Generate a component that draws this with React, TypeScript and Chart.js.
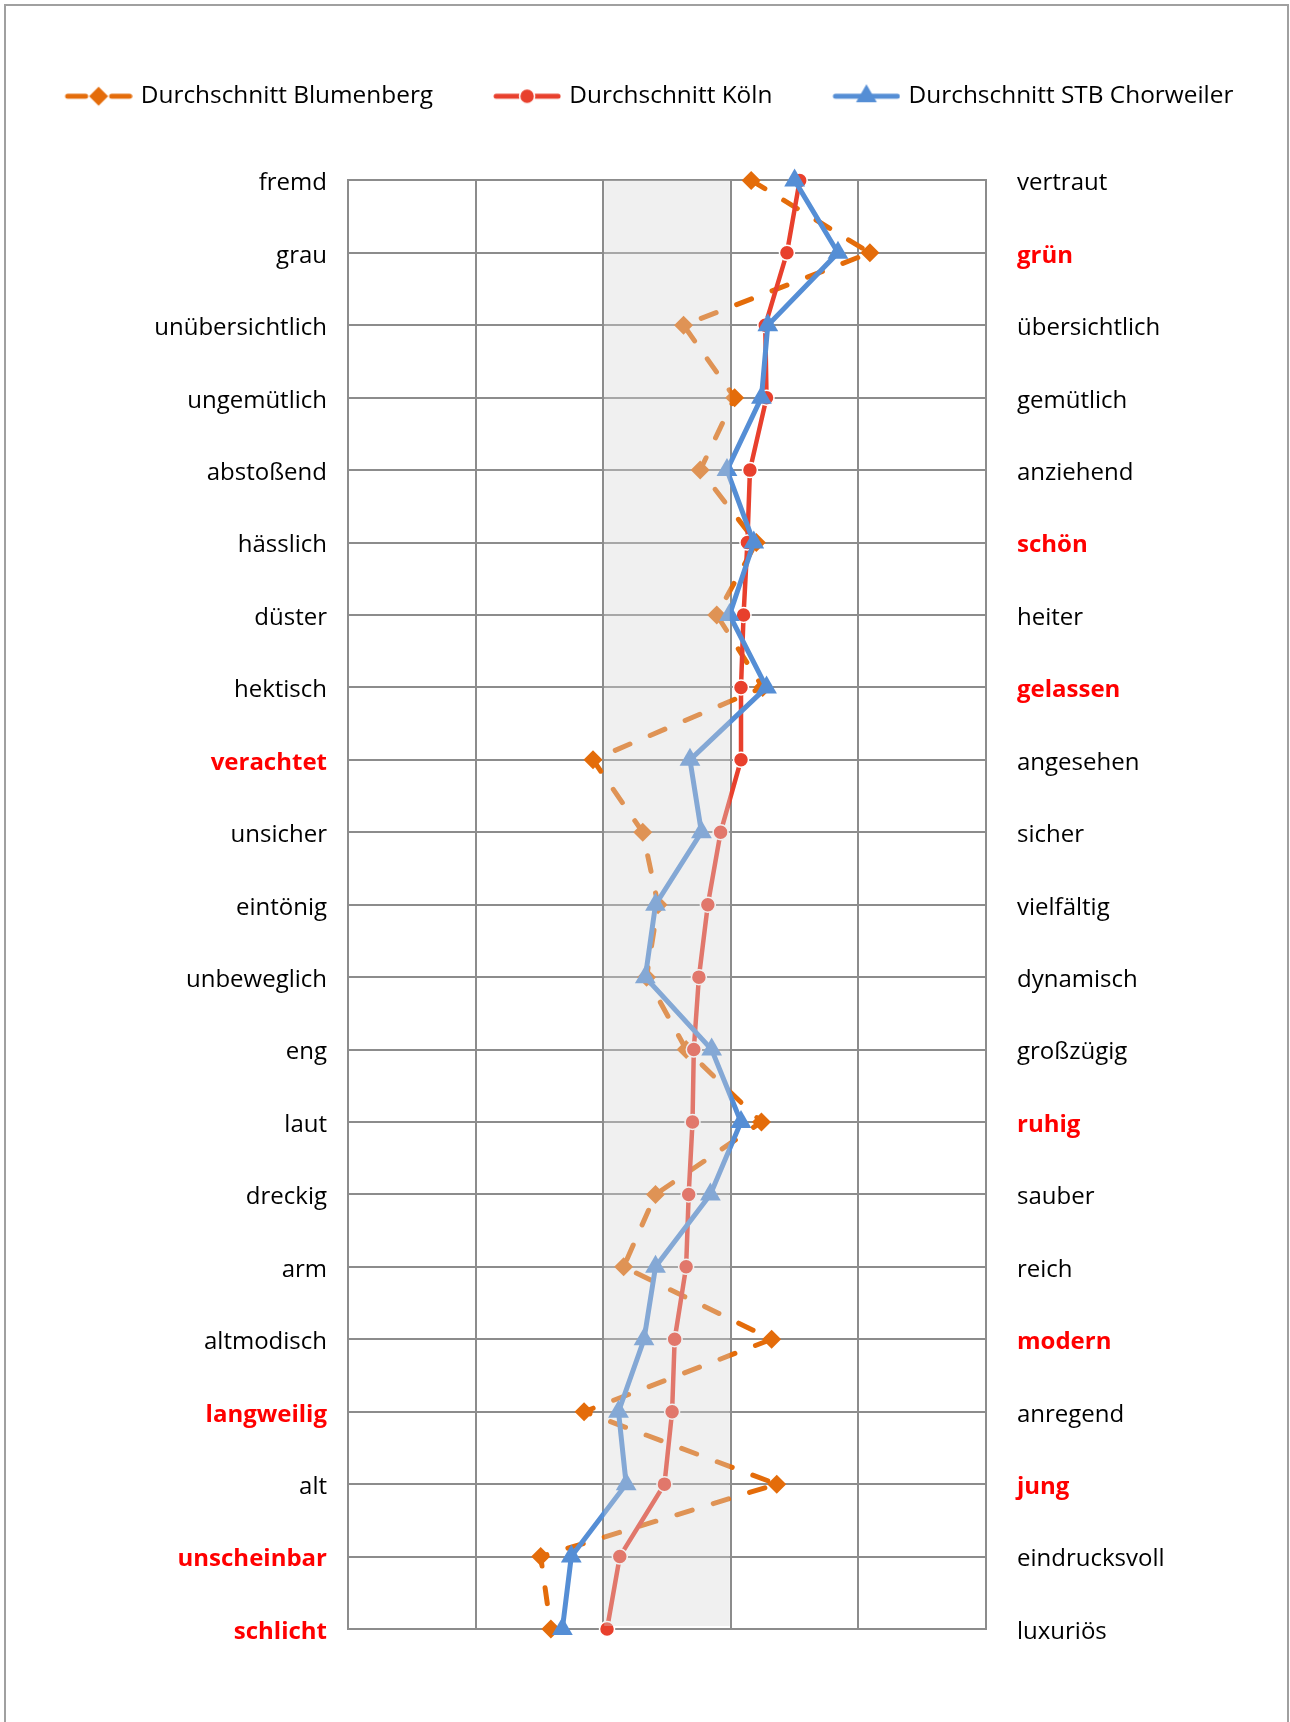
import React, { useEffect, useRef } from 'react';
import { Chart, registerables } from 'chart.js';

Chart.register(...registerables);

// ---------- data ----------
const leftLabels = [
  'fremd', 'grau', 'unübersichtlich', 'ungemütlich', 'abstoßend', 'hässlich', 'düster',
  'hektisch', 'verachtet', 'unsicher', 'eintönig', 'unbeweglich', 'eng', 'laut',
  'dreckig', 'arm', 'altmodisch', 'langweilig', 'alt', 'unscheinbar', 'schlicht',
];
const rightLabels = [
  'vertraut', 'grün', 'übersichtlich', 'gemütlich', 'anziehend', 'schön', 'heiter',
  'gelassen', 'angesehen', 'sicher', 'vielfältig', 'dynamisch', 'großzügig', 'ruhig',
  'sauber', 'reich', 'modern', 'anregend', 'jung', 'eindrucksvoll', 'luxuriös',
];
const redLeft = ['verachtet', 'langweilig', 'unscheinbar', 'schlicht'];
const redRight = ['grün', 'schön', 'gelassen', 'ruhig', 'modern', 'jung'];

const seriesNames = ['Durchschnitt Blumenberg', 'Durchschnitt Köln', 'Durchschnitt STB Chorweiler'];
const blumenberg = [4.16, 5.09, 3.63, 4.03, 3.76, 4.20, 3.89, 4.25, 2.92, 3.31, 3.43, 3.34, 3.65, 4.24, 3.41, 3.16, 4.32, 2.85, 4.36, 2.51, 2.59];
const koeln = [4.54, 4.44, 4.27, 4.28, 4.15, 4.13, 4.10, 4.08, 4.08, 3.92, 3.82, 3.75, 3.71, 3.70, 3.67, 3.65, 3.56, 3.54, 3.48, 3.13, 3.03];
const chorweiler = [4.50, 4.84, 4.29, 4.24, 3.97, 4.18, 3.99, 4.28, 3.68, 3.77, 3.41, 3.33, 3.85, 4.08, 3.84, 3.41, 3.32, 3.12, 3.18, 2.75, 2.68];

const scaleMin = 1;
const scaleMax = 6;
const bandFrom = 3;
const bandTo = 4;

// ---------- styles ----------
const FONT = '"Open Sans", "Noto Sans", sans-serif';
const ORANGE = '#E46C0A';
const RED = '#E8402D';
const BLUE = '#558ED5';
const GRID = '#8C8C8C';
const LEGEND_LEFT_PAD = 44; // transparent space in legend symbol image

function makeLegendImg(kind: string, color: string): HTMLCanvasElement {
  const c = document.createElement('canvas');
  c.width = 68 + LEGEND_LEFT_PAD;
  c.height = 28;
  const ctx = c.getContext('2d') as CanvasRenderingContext2D;
  ctx.translate(LEGEND_LEFT_PAD, 0);
  const cy = 14;
  const cx = 34;
  ctx.lineCap = 'round';
  ctx.strokeStyle = color;
  ctx.fillStyle = color;
  ctx.lineWidth = 5;
  if (kind === 'diamond') {
    ctx.beginPath(); ctx.moveTo(3, cy); ctx.lineTo(21, cy); ctx.stroke();
    ctx.beginPath(); ctx.moveTo(47, cy); ctx.lineTo(65, cy); ctx.stroke();
    ctx.beginPath();
    ctx.moveTo(cx - 9.5, cy); ctx.lineTo(cx, cy - 9.5); ctx.lineTo(cx + 9.5, cy); ctx.lineTo(cx, cy + 9.5);
    ctx.closePath(); ctx.fill();
  } else if (kind === 'circle') {
    ctx.beginPath(); ctx.moveTo(3, cy); ctx.lineTo(65, cy); ctx.stroke();
    ctx.beginPath(); ctx.arc(cx, cy, 7.5, 0, Math.PI * 2); ctx.fill();
    ctx.lineWidth = 1.5; ctx.strokeStyle = '#ffffff'; ctx.stroke();
  } else {
    ctx.beginPath(); ctx.moveTo(3, cy); ctx.lineTo(65, cy); ctx.stroke();
    const r = 12;
    ctx.beginPath();
    ctx.moveTo(cx, cy - r);
    ctx.lineTo(cx + r * Math.sin((2 * Math.PI) / 3), cy - r * Math.cos((2 * Math.PI) / 3));
    ctx.lineTo(cx + r * Math.sin((4 * Math.PI) / 3), cy - r * Math.cos((4 * Math.PI) / 3));
    ctx.closePath(); ctx.fill();
  }
  return c;
}

export default function App() {
  const ref = useRef<HTMLCanvasElement | null>(null);

  useEffect(() => {
    if (!ref.current) return;
    const legendImgs = [
      makeLegendImg('diamond', ORANGE),
      makeLegendImg('circle', RED),
      makeLegendImg('triangle', BLUE),
    ];

    const bandPlugin = {
      id: 'band',
      afterDatasetsDraw(chart: any) {
        const { ctx, chartArea, scales } = chart;
        const x1 = scales.x.getPixelForValue(bandFrom);
        const x2 = scales.x.getPixelForValue(bandTo);
        ctx.save();
        ctx.fillStyle = 'rgba(214,214,214,0.37)';
        ctx.fillRect(x1 + 1, chartArea.top, x2 - x1 - 2, chartArea.bottom - chartArea.top - 3);
        ctx.restore();
      },
    };
    const framePlugin = {
      id: 'frame',
      afterDraw(chart: any) {
        const { ctx } = chart;
        ctx.save();
        ctx.strokeStyle = '#A0A0A0';
        ctx.lineWidth = 2;
        ctx.strokeRect(5, 5, 1283, 1800);
        ctx.restore();
      },
    };
    const legendGapPlugin = {
      id: 'legendGap',
      beforeInit(chart: any) {
        const legend = chart.legend;
        if (!legend) return;
        const origFit = legend.fit;
        legend.fit = function () {
          origFit.call(this);
          this.height += 62;
        };
      },
    };

    const chart = new Chart(ref.current, {
      type: 'line',
      data: {
        labels: leftLabels,
        datasets: [
          {
            label: seriesNames[0],
            data: blumenberg,
            order: 3,
            borderColor: ORANGE,
            backgroundColor: ORANGE,
            borderWidth: 5,
            borderDash: [16, 22],
            borderCapStyle: 'round',
            pointStyle: 'rectRot',
            pointRadius: 9.5,
            pointBackgroundColor: ORANGE,
            pointBorderColor: ORANGE,
            pointBorderWidth: 0,
            tension: 0,
            clip: false,
          } as any,
          {
            label: seriesNames[1],
            data: koeln,
            order: 2,
            borderColor: RED,
            backgroundColor: RED,
            borderWidth: 4.5,
            pointStyle: 'circle',
            pointRadius: 7.5,
            pointBackgroundColor: RED,
            pointBorderColor: '#ffffff',
            pointBorderWidth: 1.5,
            tension: 0,
            clip: false,
          } as any,
          {
            label: seriesNames[2],
            data: chorweiler,
            order: 1,
            borderColor: BLUE,
            backgroundColor: BLUE,
            borderWidth: 5,
            pointStyle: 'triangle',
            pointRadius: 12,
            pointBackgroundColor: BLUE,
            pointBorderColor: BLUE,
            pointBorderWidth: 0,
            tension: 0,
            clip: false,
          } as any,
        ],
      },
      options: {
        indexAxis: 'y',
        responsive: false,
        animation: false,
        devicePixelRatio: 1,
        layout: { padding: { top: 64, bottom: 93, left: 0, right: 32 } },
        plugins: {
          tooltip: { enabled: false },
          legend: {
            position: 'top',
            labels: {
              usePointStyle: true,
              pointStyleWidth: 60 + LEGEND_LEFT_PAD,
              padding: 20,
              color: '#000000',
              font: { family: FONT, size: 24.4 },
              sort: (a: any, b: any) => a.datasetIndex - b.datasetIndex,
              generateLabels: (c: any) => {
                const items = (Chart.defaults.plugins.legend.labels as any).generateLabels(c);
                return items.map((it: any) => ({ ...it, pointStyle: legendImgs[it.datasetIndex] }));
              },
            },
          },
        },
        scales: {
          x: {
            type: 'linear',
            min: scaleMin,
            max: scaleMax,
            ticks: { display: false, stepSize: 1 },
            grid: { color: GRID, lineWidth: 2, drawTicks: false },
            border: { display: false },
          },
          y: {
            type: 'category',
            position: 'left',
            offset: false,
            grid: { color: GRID, lineWidth: 2, drawTicks: false, offset: false },
            border: { display: true, color: GRID, width: 2 },
            ticks: {
              autoSkip: false,
              padding: 21,
              labelOffset: 3,
              color: (c: any) => (redLeft.includes(leftLabels[c.index]) ? '#FF0000' : '#000000'),
              font: (c: any) => ({
                family: FONT,
                size: 24,
                weight: redLeft.includes(leftLabels[c.index]) ? 'bold' : 'normal',
              }),
            },
            afterFit: (s: any) => { s.width = 348; },
          },
          y2: {
            type: 'category',
            position: 'right',
            labels: rightLabels,
            offset: false,
            grid: { display: false, drawTicks: false },
            border: { display: true, color: GRID, width: 2 },
            ticks: {
              autoSkip: false,
              padding: 31,
              labelOffset: 3,
              color: (c: any) => (redRight.includes(rightLabels[c.index]) ? '#FF0000' : '#000000'),
              font: (c: any) => ({
                family: FONT,
                size: 24,
                weight: redRight.includes(rightLabels[c.index]) ? 'bold' : 'normal',
              }),
            },
            afterFit: (s: any) => { s.width = 272; },
          },
        } as any,
      },
      plugins: [bandPlugin, framePlugin, legendGapPlugin],
    } as any);

    return () => chart.destroy();
  }, []);

  return (
    <div style={{ position: 'absolute', left: 0, top: 0, width: 1290, height: 1722, background: '#ffffff' }}>
      <canvas ref={ref} width={1290} height={1722} style={{ display: 'block' }} />
    </div>
  );
}
